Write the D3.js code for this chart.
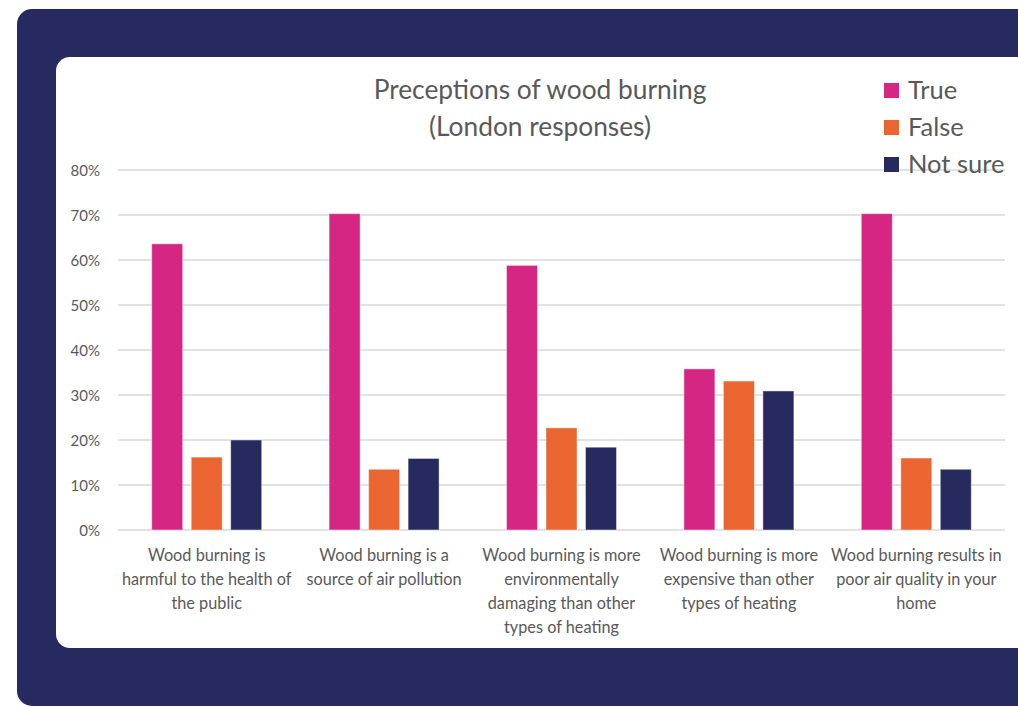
<!DOCTYPE html>
<html>
<head>
<meta charset="utf-8">
<script src="https://cdn.jsdelivr.net/npm/d3@7"></script>
<style>
  html, body { margin: 0; padding: 0; background: #fff; }
  svg { display: block; }
  text { font-family: "Lato", "Noto Sans", sans-serif; fill: #595959; }
</style>
</head>
<body>
<div id="chart"></div>
<script>
// data
var categories = [
  ["Wood burning is", "harmful to the health of", "the public"],
  ["Wood burning is a", "source of air pollution"],
  ["Wood burning is more", "environmentally", "damaging than other", "types of heating"],
  ["Wood burning is more", "expensive than other", "types of heating"],
  ["Wood burning results in", "poor air quality in your", "home"]
];
var seriesNames = ["True", "False", "Not sure"];
var seriesColors = ["#d62683", "#ea652f", "#262a5e"];
var trueVals = [63.6, 70.3, 58.8, 35.8, 70.3];
var falseVals = [16.2, 13.5, 22.7, 33.1, 16.0];
var notSureVals = [20.0, 15.9, 18.4, 30.9, 13.5];
var yTicks = [0, 10, 20, 30, 40, 50, 60, 70, 80];
var titleLines = ["Preceptions of wood burning", "(London responses)"];

var W = 1018, H = 707;
var svg = d3.select("#chart").append("svg")
  .attr("width", W).attr("height", H);

// dark frame and white card
svg.append("rect").attr("x", 17).attr("y", 9)
  .attr("width", W + 40).attr("height", H - 9 - 1)
  .attr("rx", 15).attr("fill", "#262a5e");
svg.append("rect").attr("x", 56).attr("y", 57)
  .attr("width", W + 40).attr("height", 648 - 57)
  .attr("rx", 14).attr("fill", "#ffffff");

var plotLeft = 118, plotRight = 1005, plotTop = 170, plotBottom = 530;

var x = d3.scaleBand()
  .domain(d3.range(categories.length))
  .range([plotLeft, plotRight]);
var groupW = 110;
var xs = d3.scaleBand()
  .domain(d3.range(seriesNames.length))
  .range([0, groupW])
  .paddingInner(0.215);
var y = d3.scaleLinear().domain([0, 80]).range([plotBottom, plotTop]);

// gridlines
svg.append("g").selectAll("line").data(yTicks).join("line")
  .attr("x1", plotLeft).attr("x2", plotRight)
  .attr("y1", function(d){ return y(d); })
  .attr("y2", function(d){ return y(d); })
  .attr("stroke", "#d9d9d9").attr("stroke-width", 1.3);

// y axis labels
var yAxis = d3.axisLeft(y).tickValues(yTicks)
  .tickFormat(function(d){ return d + "%"; })
  .tickSize(0).tickPadding(0);
var ya = svg.append("g").attr("transform", "translate(100,0)").call(yAxis);
ya.select(".domain").remove();
ya.selectAll("text")
  .attr("dy", "0.35em")
  .style("font-size", "15px").style("fill", "#595959")
  .style("font-family", "Lato, 'Noto Sans', sans-serif");

// bars
var allSeries = [trueVals, falseVals, notSureVals];
for (let s = 0; s < allSeries.length; ++s) {
  svg.append("g").attr("class", "series").selectAll("rect")
    .data(allSeries[s]).join("rect")
    .attr("x", function(d, i){ return x(i) + (x.bandwidth() - groupW) / 2 + xs(s); })
    .attr("y", function(d){ return y(d); })
    .attr("width", xs.bandwidth())
    .attr("height", function(d){ return plotBottom - y(d); })
    .attr("fill", seriesColors[s])
    .attr("stroke", "rgba(255,255,255,0.45)")
    .attr("stroke-width", 1);
}

// category labels
var cl = svg.append("g").selectAll("text").data(categories).join("text")
  .attr("text-anchor", "middle")
  .style("font-size", "16.3px");
cl.each(function(lines, i){
  var t = d3.select(this);
  lines.forEach(function(line, k){
    t.append("tspan")
      .attr("x", x(i) + x.bandwidth() / 2)
      .attr("y", 561 + k * 24)
      .text(line);
  });
});

// title
svg.append("g").selectAll("text").data(titleLines).join("text")
  .attr("x", 540)
  .attr("y", function(d, i){ return 99 + i * 37; })
  .attr("text-anchor", "middle")
  .style("font-size", "26.3px")
  .text(function(d){ return d; });

// legend
var lg = svg.append("g").selectAll("g").data(seriesNames).join("g")
  .attr("transform", function(d, i){ return "translate(884," + (90 + i * 37) + ")"; });
lg.append("rect").attr("x", 0).attr("y", -7).attr("width", 15).attr("height", 15)
  .attr("fill", function(d, i){ return seriesColors[i]; });
lg.append("text").attr("x", 24).attr("y", 0).attr("dy", "0.35em")
  .style("font-size", "25.5px")
  .text(function(d){ return d; });
</script>
</body>
</html>
